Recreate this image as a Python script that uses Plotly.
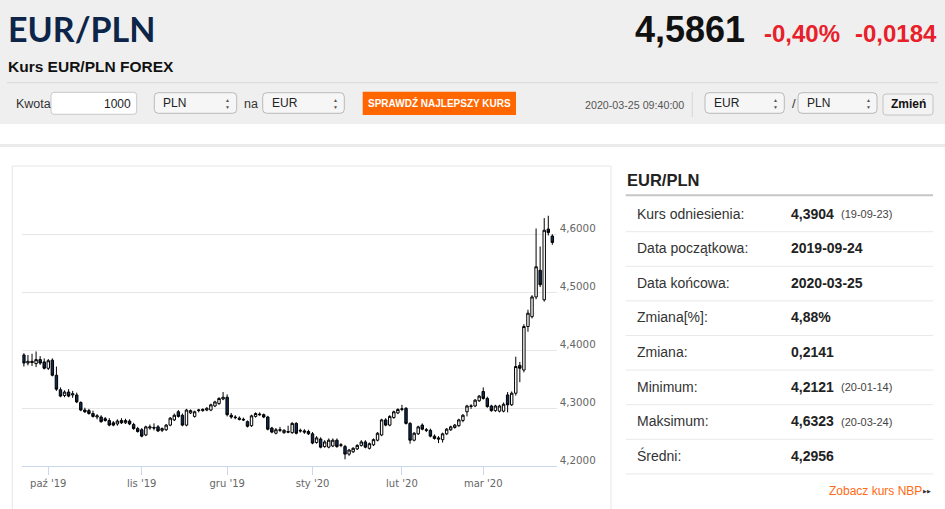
import pandas as pd
import plotly.graph_objects as go

W, H = 945, 509

# --- data --------------------------------------------------------------------
holidays = ["2019-12-25", "2020-01-01"]
dates = [d.strftime("%Y-%m-%d") for d in pd.bdate_range("2019-09-23", "2020-03-25")
         if d.strftime("%Y-%m-%d") not in holidays]

opens = [
    4.392, 4.378, 4.381, 4.377, 4.384, 4.380, 4.369, 4.383, 4.357, 4.332,
    4.322, 4.328, 4.323, 4.323, 4.310, 4.297, 4.296, 4.291, 4.285, 4.285,
    4.282, 4.279, 4.275, 4.273, 4.279, 4.275, 4.278, 4.272, 4.265, 4.263,
    4.254, 4.266, 4.267, 4.268, 4.262, 4.263, 4.271, 4.280, 4.294, 4.288,
    4.271, 4.292, 4.286, 4.296, 4.296, 4.297, 4.297, 4.304, 4.308, 4.316,
    4.319, 4.288, 4.285, 4.283, 4.281, 4.277, 4.270, 4.286, 4.290, 4.289,
    4.285, 4.266, 4.257, 4.262, 4.258, 4.260, 4.258, 4.274, 4.262, 4.261,
    4.260, 4.256, 4.241, 4.247, 4.234, 4.233, 4.235, 4.245, 4.236, 4.234,
    4.221, 4.225, 4.230, 4.236, 4.242, 4.231, 4.237, 4.245, 4.254, 4.280,
    4.271, 4.284, 4.292, 4.298, 4.300, 4.274, 4.245, 4.256, 4.271, 4.263,
    4.262, 4.252, 4.249, 4.246, 4.256, 4.263, 4.267, 4.270, 4.279, 4.294,
    4.303, 4.304, 4.313, 4.329, 4.317, 4.304, 4.296, 4.295, 4.295, 4.323,
    4.306, 4.326, 4.374, 4.366, 4.441, 4.458, 4.492, 4.538, 4.487, 4.609,
    4.597,
]
highs = [
    4.395, 4.392, 4.394, 4.398, 4.390, 4.386, 4.385, 4.386, 4.372, 4.336,
    4.331, 4.333, 4.330, 4.327, 4.312, 4.301, 4.299, 4.296, 4.290, 4.288,
    4.285, 4.283, 4.278, 4.281, 4.283, 4.282, 4.281, 4.275, 4.268, 4.266,
    4.270, 4.272, 4.274, 4.271, 4.267, 4.273, 4.285, 4.291, 4.297, 4.291,
    4.299, 4.298, 4.296, 4.299, 4.300, 4.302, 4.308, 4.313, 4.319, 4.328,
    4.324, 4.292, 4.288, 4.286, 4.284, 4.279, 4.289, 4.293, 4.293, 4.291,
    4.287, 4.268, 4.266, 4.268, 4.264, 4.270, 4.276, 4.276, 4.265, 4.264,
    4.263, 4.259, 4.252, 4.250, 4.245, 4.248, 4.248, 4.248, 4.240, 4.237,
    4.230, 4.233, 4.238, 4.245, 4.245, 4.241, 4.248, 4.259, 4.282, 4.283,
    4.288, 4.296, 4.300, 4.306, 4.302, 4.276, 4.259, 4.270, 4.274, 4.266,
    4.265, 4.255, 4.252, 4.258, 4.266, 4.270, 4.273, 4.282, 4.290, 4.306,
    4.307, 4.316, 4.323, 4.336, 4.320, 4.306, 4.306, 4.306, 4.310, 4.328,
    4.329, 4.389, 4.380, 4.445, 4.470, 4.495, 4.610, 4.579, 4.628, 4.632,
    4.600,
]
lows = [
    4.372, 4.374, 4.373, 4.371, 4.375, 4.367, 4.366, 4.355, 4.330, 4.319,
    4.319, 4.319, 4.318, 4.309, 4.295, 4.292, 4.289, 4.284, 4.281, 4.275,
    4.277, 4.269, 4.269, 4.270, 4.273, 4.273, 4.271, 4.263, 4.258, 4.250,
    4.252, 4.263, 4.262, 4.259, 4.259, 4.261, 4.269, 4.278, 4.284, 4.269,
    4.269, 4.290, 4.284, 4.293, 4.294, 4.295, 4.295, 4.302, 4.306, 4.314,
    4.286, 4.282, 4.281, 4.279, 4.278, 4.267, 4.268, 4.284, 4.287, 4.283,
    4.262, 4.257, 4.255, 4.259, 4.256, 4.257, 4.256, 4.255, 4.258, 4.256,
    4.254, 4.238, 4.239, 4.231, 4.232, 4.231, 4.233, 4.232, 4.233, 4.212,
    4.218, 4.223, 4.228, 4.234, 4.231, 4.229, 4.235, 4.243, 4.252, 4.269,
    4.269, 4.282, 4.290, 4.295, 4.272, 4.239, 4.243, 4.254, 4.262, 4.259,
    4.250, 4.246, 4.240, 4.241, 4.254, 4.261, 4.265, 4.268, 4.276, 4.286,
    4.299, 4.302, 4.311, 4.315, 4.301, 4.294, 4.294, 4.293, 4.293, 4.293,
    4.304, 4.322, 4.345, 4.362, 4.432, 4.455, 4.488, 4.509, 4.484, 4.598,
    4.582,
]
closes = [
    4.378, 4.381, 4.379, 4.384, 4.378, 4.369, 4.382, 4.357, 4.333, 4.321,
    4.328, 4.321, 4.325, 4.311, 4.297, 4.294, 4.291, 4.286, 4.287, 4.277,
    4.279, 4.271, 4.271, 4.278, 4.275, 4.279, 4.273, 4.265, 4.260, 4.252,
    4.268, 4.268, 4.266, 4.261, 4.265, 4.271, 4.283, 4.288, 4.286, 4.271,
    4.297, 4.296, 4.294, 4.297, 4.298, 4.300, 4.306, 4.311, 4.317, 4.319,
    4.289, 4.285, 4.284, 4.281, 4.280, 4.269, 4.287, 4.291, 4.289, 4.285,
    4.264, 4.259, 4.263, 4.263, 4.262, 4.259, 4.274, 4.257, 4.261, 4.259,
    4.256, 4.240, 4.249, 4.233, 4.242, 4.245, 4.245, 4.234, 4.237, 4.221,
    4.228, 4.231, 4.236, 4.242, 4.233, 4.239, 4.246, 4.257, 4.280, 4.271,
    4.286, 4.294, 4.298, 4.299, 4.274, 4.245, 4.257, 4.268, 4.264, 4.262,
    4.252, 4.248, 4.247, 4.256, 4.264, 4.268, 4.271, 4.280, 4.288, 4.304,
    4.304, 4.314, 4.321, 4.317, 4.303, 4.296, 4.304, 4.304, 4.307, 4.306,
    4.326, 4.372, 4.369, 4.441, 4.464, 4.492, 4.544, 4.513, 4.607, 4.603,
    4.586,
]

month_ticks = ["2019-10-01", "2019-11-01", "2019-12-02", "2020-01-02", "2020-02-03", "2020-03-02"]
month_labels = ["paź '19", "lis '19", "gru '19", "sty '20", "lut '20", "mar '20"]
price_ticks = [4.2, 4.3, 4.4, 4.5, 4.6, 4.7]
price_labels = ["4,2000", "4,3000", "4,4000", "4,5000", "4,6000", ""]

stat_names = ["Kurs odniesienia:", "Data początkowa:", "Data końcowa:", "Zmiana[%]:",
              "Zmiana:", "Minimum:", "Maksimum:", "Średni:"]
stat_values = ["4,3904", "2019-09-24", "2020-03-25", "4,88%", "0,2141", "4,2121", "4,6323", "4,2956"]
stat_dates = ["(19-09-23)", "", "", "", "", "(20-01-14)", "(20-03-24)", ""]

# --- helpers (pixel coords -> paper) -------------------------------------------
shapes = []
annotations = []


def px(x):
    return x / W


def py(y):
    return 1 - y / H


def text(x, y, s, size, color="#333333", bold=False, xanchor="left", family="Arial"):
    annotations.append(dict(
        x=px(x), y=py(y), xref="paper", yref="paper", showarrow=False,
        text=f"<b>{s}</b>" if bold else s, xanchor=xanchor, yanchor="middle",
        borderpad=0, font=dict(size=size, color=color, family=family),
    ))


def rect(x0, y0, x1, y1, fill, line="rgba(0,0,0,0)", width=0):
    shapes.append(dict(type="rect", xref="paper", yref="paper", layer="below",
                       x0=px(x0), x1=px(x1), y0=py(y1), y1=py(y0),
                       fillcolor=fill, line=dict(color=line, width=width)))


def hline(x0, x1, y, color, width=1):
    shapes.append(dict(type="line", xref="paper", yref="paper", layer="below",
                       x0=px(x0), x1=px(x1), y0=py(y), y1=py(y),
                       line=dict(color=color, width=width)))


def vline(x, y0, y1, color, width=1):
    shapes.append(dict(type="line", xref="paper", yref="paper", layer="below",
                       x0=px(x), x1=px(x), y0=py(y1), y1=py(y0),
                       line=dict(color=color, width=width)))


def rrect(x0, y0, x1, y1, r, fill, line, width=1):
    X, Y = px, py
    path = (f"M{X(x0 + r)},{Y(y0)} L{X(x1 - r)},{Y(y0)} Q{X(x1)},{Y(y0)} {X(x1)},{Y(y0 + r)} "
            f"L{X(x1)},{Y(y1 - r)} Q{X(x1)},{Y(y1)} {X(x1 - r)},{Y(y1)} "
            f"L{X(x0 + r)},{Y(y1)} Q{X(x0)},{Y(y1)} {X(x0)},{Y(y1 - r)} "
            f"L{X(x0)},{Y(y0 + r)} Q{X(x0)},{Y(y0)} {X(x0 + r)},{Y(y0)} Z")
    shapes.append(dict(type="path", xref="paper", yref="paper", layer="below", path=path,
                       fillcolor=fill, line=dict(color=line, width=width)))


def select_box(x0, x1, label):
    rrect(x0, 92.7, x1, 113.3, 4, "#f6f6f6", "#b9b9b9")
    text(x0 + 8, 103.5, label, 12, "#222222")
    text(x1 - 9, 100.3, "▲", 5, "#555555", xanchor="center")
    text(x1 - 9, 106.7, "▼", 5, "#555555", xanchor="center")


# --- page background / header -------------------------------------------------
rect(0, 0, W, 124, "#efefef")
rect(0, 144, W, 147, "#ebebeb")
hline(7, 938, 82.7, "#d9d9d9")

text(7, 28.7, "EUR/PLN", 34, "#0c2548", bold=True, family="Lato")
text(7, 66.3, "Kurs EUR/PLN FOREX", 15.5, "#111111", bold=True)
text(634, 29.7, "4,5861", 36, "#111111", bold=True)
text(763, 33.3, "-0,40%", 24, "#e8202a", bold=True)
text(854, 33.3, "-0,0184", 24, "#e8202a", bold=True)

text(15, 104, "Kwota", 12.5, "#333333")
rrect(51, 92.3, 136.7, 114.3, 3, "#ffffff", "#c8c8c8")
text(132, 103.8, "1000", 12, "#222222", xanchor="right")
select_box(154.3, 236.7, "PLN")
text(243, 103.8, "na", 12.5, "#333333")
select_box(262.7, 344.3, "EUR")
rect(362.7, 91.7, 516, 115, "#ff6600")
text(439.3, 103.4, "SPRAWDŹ NAJLEPSZY KURS", 10, "#ffffff", bold=True, xanchor="center")

text(584, 104.5, "2020-03-25 09:40:00", 10.7, "#555555")
vline(692.3, 92, 117, "#d6d6d6")
select_box(705, 784.3, "EUR")
text(790.5, 103.5, "/", 13, "#333333")
select_box(798, 877, "PLN")
rrect(883, 94, 933, 115, 3, "#f3f3f3", "#c2c2c2")
text(908, 104.3, "Zmień", 12, "#111111", bold=True, xanchor="center")

# chart container (open at the bottom, it runs past the window edge)
hline(12.3, 611, 166, "#e6e6e6")
vline(12.3, 166, 509, "#e6e6e6")
vline(611, 166, 509, "#e6e6e6")

# --- stats panel ---------------------------------------------------------------
text(626, 179.5, "EUR/PLN", 16.5, "#222222", bold=True)
hline(625.7, 933, 195.3, "#c6c6c6", 2)
for k, (name, val, dt) in enumerate(zip(stat_names, stat_values, stat_dates)):
    yc = 213.5 + 34.6 * k
    text(636, yc, name, 14, "#333333")
    text(790, yc, val, 14, "#222222", bold=True)
    if dt:
        text(840, yc + 0.5, dt, 11, "#444444")
    hline(625.7, 933, yc + 18.2, "#e9e9e9")
text(828, 490.5, "Zobacz kurs NBP", 12, "#ff6a13")
text(927, 491, "▶▶", 5, "#333333", xanchor="center")

# --- candlestick chart ----------------------------------------------------------
fig = go.Figure()
fig.add_trace(go.Candlestick(
    x=dates, open=opens, high=highs, low=lows, close=closes,
    increasing=dict(line=dict(color="#000000", width=1), fillcolor="#ffffff"),
    decreasing=dict(line=dict(color="#000000", width=1), fillcolor="#0f2a52"),
    whiskerwidth=0, hoverinfo="skip", showlegend=False,
))

fig.update_layout(
    width=W, height=H,
    margin=dict(l=0, r=0, t=0, b=0),
    paper_bgcolor="#ffffff", plot_bgcolor="rgba(0,0,0,0)",
    font=dict(family="Arial", color="#333333"),
    hovermode=False, boxgap=0.15,
    shapes=shapes, annotations=annotations,
    xaxis=dict(
        type="category", domain=[22.3 / W, 556.7 / W], range=[-0.39, 131.07],
        rangeslider=dict(visible=False), showgrid=False,
        showline=True, linecolor="#ccd6eb", linewidth=1,
        ticks="outside", ticklen=8, tickcolor="#ccd6eb", tickwidth=1,
        tickvals=month_ticks, ticktext=month_labels,
        tickfont=dict(family="DejaVu Sans", size=10, color="#666666"),
        fixedrange=True,
    ),
    yaxis=dict(
        domain=[(H - 466.3) / H, (H - 176.3) / H], range=[4.2, 4.7],
        side="right", showgrid=True, gridcolor="#e6e6e6", gridwidth=1,
        zeroline=False, showline=False, ticks="",
        tickvals=price_ticks, ticktext=price_labels,
        tickfont=dict(family="DejaVu Sans", size=10.3, color="#666666"),
        ticklabelstandoff=2, ticklabelshift=-6,
        fixedrange=True,
    ),
)

# the page body has an 8px default margin; drop it so the figure fills the window
fig.write_html("out.html", config={"displayModeBar": False},
               post_script="document.body.style.margin='0px';")
